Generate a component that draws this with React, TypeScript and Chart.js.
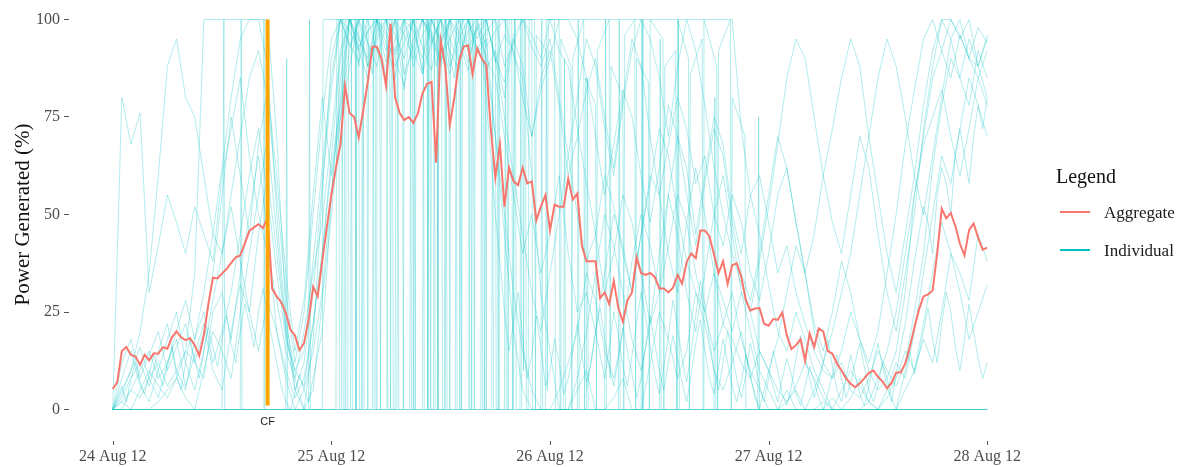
import React, { useEffect, useRef } from "react";
import { Chart, registerables } from "chart.js";

Chart.register(...registerables);

// Axis ticks (hours since 24 Aug 2012 00:00)
const DAY_HOURS = [0, 24, 48, 72, 96];
const DAY_LABELS = ["24 Aug 12", "25 Aug 12", "26 Aug 12", "27 Aug 12", "28 Aug 12"];
const POWER_TICKS = [0, 25, 50, 75, 100];

// Capacity-factor marker
const CF_HOUR = 17;
const CF_SPAN = [1, 100];
const CF_LABEL_Y = -3.2;

// Farm aggregate, half-hourly samples (% of rated power)
const HALF_HOUR = 0.5;
const aggregate = [
  5.3, 7, 15, 16, 14, 13.6, 11.5, 14, 12.6, 14.4, 14.3, 16,
  15.6, 18.5, 20, 18.5, 17.8, 18.3, 16.5, 13.8, 19, 27, 33.8, 33.6,
  34.9, 36, 37.6, 39, 39.5, 42.6, 45.8, 46.7, 47.5, 46.5, 49.3, 31,
  29, 27.5, 24.8, 20.5, 19, 15.2, 17, 23, 31.5, 29, 38, 46.7,
  55, 62, 68, 83, 76, 75, 69.8, 76.7, 84, 93, 93, 90,
  83, 98.9, 80, 76, 74.2, 75, 73.5, 75.9, 81, 83.5, 84, 63.3,
  94.6, 88, 73, 80, 89, 93, 93.4, 86, 92.6, 90, 88.4, 72,
  59.5, 68, 52, 62, 58.5, 57.5, 62, 58, 58.5, 48.5, 52, 55,
  46, 52.5, 52, 52, 59.2, 53.8, 55.4, 42, 38, 38, 38, 28.5,
  30, 27, 33, 26, 22.5, 28, 30, 39, 35, 34.5, 35, 34,
  31, 31, 30, 31.2, 34.5, 32.3, 37.8, 40, 38.8, 45.9, 45.9, 44.4,
  39.8, 35, 38, 32.2, 37, 37.5, 34, 28, 25.4, 25.9, 26, 22,
  21.5, 23.2, 23, 24.9, 19, 15.5, 16.5, 18, 12.5, 19.5, 16, 20.8,
  20, 15, 14.3, 11.8, 10, 8, 6.6, 5.7, 6.7, 8, 9.4, 10,
  8.4, 7.2, 5.4, 6.8, 9.5, 9.5, 11.8, 16, 21, 25.6, 29, 29.5,
  30.5, 40, 51.5, 49, 50.4, 47, 42.5, 39.5, 46, 47.7, 44, 41,
  41.5,
];

// Individual turbines, hourly samples (% of rated power)
const wtg01 = [
  0, 2, 5, 3, 8, 12, 6, 10, 15, 35, 100, 100,
  100, 100, 100, 100, 100, 100, 70, 25, 5, 0, 18, 55,
  90, 100, 100, 100, 100, 100, 100, 100, 100, 100, 100, 100,
  100, 100, 100, 100, 100, 100, 100, 100, 100, 100, 100, 100,
  100, 100, 100, 100, 100, 100, 100, 100, 100, 100, 100, 100,
  100, 100, 100, 100, 100, 100, 100, 100, 100, 72, 55, 60,
  48, 35, 42, 30, 22, 15, 10, 8, 12, 5, 3, 8,
  15, 10, 6, 12, 25, 40, 62, 78, 90, 85, 95, 88,
  80,
];
const wtg02 = [
  0, 80, 68, 76, 30, 42, 55, 48, 40, 52, 45, 38,
  60, 72, 85, 65, 50, 40, 28, 15, 8, 20, 35, 48,
  70, 92, 100, 95, 90, 100, 97, 92, 100, 88, 96, 100,
  93, 100, 97, 89, 98, 90, 85, 70, 55, 40, 50, 35,
  45, 60, 40, 25, 30, 20, 35, 50, 42, 30, 45, 60,
  55, 40, 30, 48, 62, 50, 35, 28, 20, 30, 25, 15,
  10, 18, 30, 42, 35, 20, 12, 8, 15, 25, 18, 10,
  5, 8, 15, 30, 55, 70, 85, 92, 100, 96, 90, 98,
  94,
];
const wtg03 = [
  0, 5, 10, 20, 35, 60, 88, 95, 80, 75, 60, 45,
  40, 55, 70, 85, 92, 80, 55, 30, 12, 25, 50, 75,
  95, 100, 97, 92, 100, 100, 96, 88, 94, 100, 100, 97,
  90, 95, 100, 100, 93, 87, 92, 80, 95, 88, 70, 85,
  92, 78, 60, 70, 82, 90, 75, 62, 80, 95, 88, 70,
  55, 68, 80, 72, 58, 65, 50, 42, 55, 48, 35, 28,
  40, 55, 62, 48, 35, 22, 15, 25, 38, 30, 18, 12,
  20, 35, 50, 68, 82, 95, 100, 92, 85, 96, 90, 88,
  95,
];
const wtg04 = [
  0, 3, 8, 12, 6, 15, 22, 10, 5, 18, 25, 12,
  20, 30, 45, 60, 72, 55, 35, 18, 10, 6, 22, 40,
  65, 90, 100, 96, 88, 100, 94, 85, 100, 97, 90, 100,
  95, 86, 100, 92, 98, 100, 90, 84, 96, 100, 93, 88,
  95, 80, 65, 50, 38, 45, 60, 52, 40, 30, 45, 58,
  72, 65, 50, 38, 30, 25, 35, 22, 18, 12, 8, 15,
  10, 5, 2, 6, 12, 8, 3, 0, 5, 10, 6, 2,
  8, 15, 25, 40, 55, 68, 75, 82, 70, 60, 72, 85,
  78,
];
const wtg05 = [
  0, 12, 18, 8, 14, 20, 10, 16, 22, 12, 8, 25,
  30, 18, 35, 50, 65, 45, 20, 8, 0, 5, 15, 30,
  55, 80, 100, 92, 85, 97, 100, 90, 83, 95, 100, 94,
  100, 88, 95, 100, 91, 95, 70, 45, 20, 5, 0, 0,
  0, 5, 12, 20, 35, 28, 15, 8, 20, 38, 50, 42,
  30, 55, 70, 62, 45, 60, 75, 68, 50, 40, 55, 45,
  32, 20, 15, 25, 18, 10, 5, 0, 0, 3, 8, 2,
  0, 5, 12, 8, 20, 35, 50, 65, 58, 72, 85, 78,
  70,
];
const wtg06 = [
  0, 0, 5, 10, 15, 8, 12, 20, 28, 18, 30, 45,
  62, 80, 95, 100, 100, 88, 50, 22, 10, 15, 38, 62,
  85, 100, 94, 89, 97, 100, 92, 100, 86, 93, 100, 96,
  89, 100, 95, 87, 100, 93, 97, 100, 91, 85, 60, 30,
  15, 0, 0, 5, 10, 0, 0, 3, 8, 0, 0, 12,
  25, 18, 8, 15, 30, 22, 10, 5, 12, 20, 8, 0,
  0, 0, 5, 0, 0, 0, 2, 0, 0, 0, 0, 0,
  0, 3, 8, 15, 10, 22, 35, 48, 40, 30, 18, 25,
  32,
];
const wtg07 = [
  0, 2, 0, 5, 10, 6, 3, 8, 15, 12, 20, 35,
  55, 75, 60, 45, 68, 82, 60, 35, 15, 28, 55, 80,
  60, 75, 88, 100, 100, 92, 85, 100, 96, 90, 100, 95,
  88, 100, 100, 100, 100, 100, 90, 75, 60, 45, 30, 20,
  35, 50, 65, 80, 95, 88, 72, 60, 78, 92, 100, 95,
  85, 70, 88, 100, 92, 78, 62, 50, 40, 32, 25, 38,
  52, 68, 85, 95, 90, 75, 60, 48, 40, 55, 70, 62,
  45, 30, 20, 35, 50, 72, 88, 100, 95, 85, 78, 92,
  85,
];
const wtg08 = [
  0, 8, 15, 6, 2, 10, 18, 25, 12, 5, 15, 28,
  40, 52, 38, 25, 45, 60, 40, 20, 5, 12, 30, 58,
  82, 100, 93, 100, 88, 95, 100, 91, 97, 100, 86, 94,
  100, 92, 87, 100, 95, 100, 89, 96, 92, 80, 70, 82,
  90, 100, 100, 95, 85, 70, 55, 68, 82, 75, 60, 48,
  62, 78, 70, 55, 42, 58, 72, 65, 48, 35, 28, 40,
  55, 70, 62, 48, 35, 45, 60, 72, 85, 95, 88, 70,
  55, 40, 30, 45, 60, 78, 92, 100, 100, 95, 100, 88,
  96,
];
const wtg09 = [
  0, 4, 10, 16, 8, 3, 12, 18, 6, 14, 22, 10,
  5, 20, 32, 25, 15, 28, 20, 10, 3, 8, 22, 40,
  62, 78, 92, 100, 94, 88, 100, 96, 90, 100, 93, 87,
  100, 95, 89, 100, 92, 97, 100, 88, 94, 100, 96, 90,
  100, 92, 88, 72, 58, 45, 30, 40, 55, 48, 35, 22,
  30, 42, 55, 48, 35, 25, 15, 22, 30, 18, 10, 5,
  0, 0, 2, 5, 0, 0, 0, 3, 0, 0, 0, 2,
  0, 0, 0, 5, 10, 18, 12, 25, 40, 35, 28, 45,
  38,
];
const wtg10 = [
  0, 0, 0, 0, 0, 2, 5, 8, 3, 0, 10, 20,
  15, 8, 25, 40, 55, 70, 45, 20, 8, 0, 5, 28,
  50, 75, 100, 93, 97, 100, 89, 95, 100, 92, 86, 100,
  94, 100, 90, 97, 100, 90, 70, 50, 30, 15, 5, 0,
  0, 0, 0, 8, 20, 35, 50, 42, 30, 18, 10, 22,
  40, 55, 45, 30, 20, 35, 50, 60, 45, 30, 20, 10,
  5, 0, 0, 0, 0, 5, 12, 20, 30, 40, 55, 70,
  85, 95, 88, 75, 60, 50, 65, 80, 95, 100, 90, 85,
  92,
];

// Turbines logged half-hourly (% of rated power), with their first sample hour
const wtg15Start = 0;
const wtg15 = [
  0, 3, 6, 2, 8, 12, 7, 4, 9, 14, 10, 6,
  11, 16, 9, 5, 12, 18, 13, 8, 15, 21, 16, 11,
  18, 24, 17, 12, 20, 27, 22, 16, 25, 31, 24, 18,
  12, 6, 2, 0, 4, 9, 5, 2, 8, 14, 20, 35,
  55, 70, 85, 92, 100, 96, 88, 100, 94, 86, 100, 92,
  85, 97, 100, 90, 82, 95, 100, 93, 87, 100, 96, 88,
  94, 100, 91, 85, 97, 100, 92, 86, 99, 93, 80, 65,
  50, 38, 25, 15, 22, 30, 18, 8, 14, 24, 16, 6,
  10, 18, 12, 4, 8, 15, 22, 14, 7, 12, 20, 26,
  18, 11, 6, 13, 21, 15, 9, 3, 8, 16, 24, 17,
  10, 5, 12, 19, 13, 7, 2, 9, 17, 23, 15, 8,
  4, 11, 18, 12, 6, 2, 7, 14, 9, 3, 0, 5,
  10, 6, 2, 8, 13, 9, 4, 1, 6, 11, 7, 3,
  0, 4, 9, 14, 8, 3, 7, 12, 17, 11, 5, 2,
  6, 12, 8, 3, 0, 5, 10, 15, 9, 14, 20, 26,
  18, 12, 22, 30, 25, 16, 10, 18, 27, 20, 13, 8,
  12,
];
const wtg16Start = 52;
const wtg16 = [
  5, 12, 20, 14, 8, 16, 25, 19, 11, 6, 14, 22,
  30, 24, 16, 9, 4, 11, 19, 28, 21, 13, 7, 15,
  24, 33, 27, 18, 10, 5, 12, 20, 14, 8, 3, 9,
  17, 12, 6, 2, 8, 15, 10, 4, 1, 6, 13, 19,
  14, 8, 3, 7, 12, 18, 11, 5, 2, 8, 14, 9,
  4, 1, 6, 12, 17, 11, 6, 2, 9, 16, 22, 30,
  38, 45, 52, 48, 40, 55, 62, 58, 50, 66, 72, 65,
  58, 70, 78, 72, 80,
];

// Turbines with rapid trips / restarts: [hour, % of rated power]
const wtg11: [number, number][] = [
  [0, 0], [24.5, 0], [24.6, 100], [25.4, 100], [25.5, 0], [25.6, 100], [26.6, 100], [26.7, 0],
  [26.8, 100], [27.9, 100], [28.0, 0], [28.1, 100], [29.3, 100], [29.4, 0], [29.5, 100], [30.4, 100],
  [30.5, 0], [30.6, 100], [31.8, 100], [31.9, 0], [32.0, 100], [33.1, 100], [33.2, 0], [33.3, 100],
  [34.5, 100], [34.6, 0], [34.7, 100], [35.6, 100], [35.7, 0], [35.8, 100], [36.9, 100], [37.0, 0],
  [37.1, 100], [38.2, 100], [38.3, 0], [38.4, 100], [39.6, 100], [39.7, 0], [39.8, 100], [40.9, 100],
  [41.0, 0], [41.1, 100], [42.2, 100], [42.3, 0], [42.4, 100], [43.3, 100], [43.4, 0], [43.5, 100],
  [44.2, 100], [44.3, 0], [45.6, 0], [45.7, 100], [46.0, 100], [46.1, 0], [96, 0],
];
const wtg12: [number, number][] = [
  [0, 0], [25.1, 0], [25.2, 100], [25.3, 0], [26.1, 0], [26.2, 100], [26.3, 0], [27.4, 0],
  [27.5, 100], [27.6, 0], [28.5, 0], [28.6, 100], [28.7, 0], [30.0, 0], [30.1, 100], [30.2, 0],
  [31.2, 0], [31.3, 100], [31.4, 0], [32.6, 0], [32.7, 100], [32.8, 0], [34.0, 0], [34.1, 100],
  [34.2, 0], [35.2, 0], [35.3, 100], [35.4, 0], [36.5, 0], [36.6, 100], [36.7, 0], [37.6, 0],
  [37.7, 100], [37.8, 0], [39.0, 0], [39.1, 100], [39.2, 0], [40.4, 0], [40.5, 100], [40.6, 0],
  [41.6, 0], [41.7, 100], [41.8, 0], [43.0, 0], [43.1, 100], [43.2, 0], [44.7, 0], [44.8, 100],
  [44.9, 0], [47.0, 0], [47.1, 100], [47.2, 0], [49.5, 0], [49.6, 90], [49.7, 0], [52.0, 0],
  [52.1, 85], [52.2, 0], [55.5, 0], [55.6, 100], [55.7, 0], [60.0, 0], [60.1, 95], [60.2, 0],
  [66.0, 0], [66.1, 80], [66.2, 0], [96, 0],
];
const wtg13: [number, number][] = [
  [0, 0], [12, 0], [12.2, 100], [12.3, 0], [14, 0], [14.1, 100], [14.2, 0], [16.5, 0],
  [16.6, 100], [16.7, 0], [19, 0], [19.1, 90], [19.2, 0], [21.5, 0], [21.6, 100], [21.7, 0],
  [23.0, 0], [23.1, 100], [24.8, 100], [24.9, 0], [25.8, 0], [25.9, 100], [27.0, 100], [27.1, 0],
  [27.3, 0], [27.4, 100], [28.8, 100], [28.9, 0], [29.0, 100], [30.7, 100], [30.8, 0], [31.0, 0],
  [31.1, 100], [32.9, 100], [33.0, 0], [33.1, 100], [34.8, 100], [34.9, 0], [35.0, 100], [36.1, 100],
  [36.2, 0], [36.4, 0], [36.5, 100], [38.0, 100], [38.1, 0], [38.2, 100], [39.3, 100], [39.4, 0],
  [39.5, 100], [40.7, 100], [40.8, 0], [40.9, 100], [42.0, 100], [42.1, 0], [42.3, 0], [42.4, 100],
  [43.8, 100], [43.9, 0], [44.1, 100], [45.3, 100], [45.4, 0], [47.5, 0], [47.6, 100], [48.5, 100],
  [48.6, 0], [51, 0], [51.1, 100], [51.2, 0], [54, 0], [54.1, 100], [54.2, 0], [58, 0],
  [58.1, 100], [58.2, 0], [62, 0], [62.1, 100], [62.2, 0], [96, 0],
];
const wtg14: [number, number][] = [
  [0, 0], [44.0, 0], [44.1, 100], [45.0, 100], [45.1, 10], [45.2, 100], [46.3, 100], [46.4, 0],
  [46.5, 96], [47.6, 92], [47.7, 5], [47.8, 100], [49.0, 100], [49.1, 0], [49.2, 95], [50.3, 88],
  [50.4, 0], [50.5, 90], [51.7, 100], [51.8, 0], [51.9, 85], [53.0, 78], [53.1, 0], [53.2, 92],
  [54.5, 100], [54.6, 8], [54.7, 88], [56.0, 80], [56.1, 0], [56.2, 96], [57.3, 100], [57.4, 0],
  [57.5, 90], [58.8, 84], [58.9, 0], [59.0, 100], [60.4, 95], [60.5, 0], [60.6, 88], [61.8, 92],
  [61.9, 0], [62.0, 100], [63.2, 90], [63.3, 0], [63.4, 86], [64.7, 95], [64.8, 0], [64.9, 100],
  [66.3, 88], [66.4, 0], [66.5, 92], [67.8, 100], [67.9, 0], [68.0, 80], [69.4, 70], [69.5, 0],
  [70.8, 0], [70.9, 75], [71.0, 0], [96, 0],
];

const HOURLY_TURBINES = [wtg01, wtg02, wtg03, wtg04, wtg05, wtg06, wtg07, wtg08, wtg09, wtg10];
const HALF_HOURLY_TURBINES: [number, number[]][] = [
  [wtg15Start, wtg15],
  [wtg16Start, wtg16],
];
const TRIP_TURBINES = [wtg11, wtg12, wtg13, wtg14];

const AGG_COLOR = "#F8766D";
const IND_COLOR = "rgba(0, 191, 196, 0.3)";
const CF_COLOR = "#FFA500";
const SERIF = "'Liberation Serif', 'Times New Roman', serif";

const annotations = {
  id: "cfAnnotations",
  afterDatasetsDraw(chart: any) {
    const { ctx, scales } = chart;
    const x = scales.x;
    const y = scales.y;
    ctx.save();
    ctx.fillStyle = "#222222";
    ctx.font = "11px 'Liberation Sans', Arial, sans-serif";
    ctx.textAlign = "center";
    ctx.textBaseline = "middle";
    ctx.fillText("CF", x.getPixelForValue(CF_HOUR), y.getPixelForValue(CF_LABEL_Y));
    ctx.restore();
  },
  afterDraw(chart: any) {
    const { ctx, scales, chartArea } = chart;
    const x = scales.x;
    ctx.save();
    ctx.strokeStyle = "#555555";
    ctx.lineWidth = 1;
    DAY_HOURS.forEach((h) => {
      const px = Math.round(x.getPixelForValue(h)) + 0.5;
      ctx.beginPath();
      ctx.moveTo(px, chartArea.bottom + 12);
      ctx.lineTo(px, chartArea.bottom + 16);
      ctx.stroke();
    });
    ctx.restore();
  },
};

const individualStyle = {
  borderColor: IND_COLOR,
  borderWidth: 1,
  pointRadius: 0,
  tension: 0,
};

export default function App() {
  const canvasRef = useRef<HTMLCanvasElement | null>(null);

  useEffect(() => {
    const canvas = canvasRef.current;
    if (!canvas) return;

    const individualSets = [
      ...HOURLY_TURBINES.map((vals) => ({
        label: "Individual",
        data: vals.map((v, i) => ({ x: i, y: v })),
        ...individualStyle,
      })),
      ...HALF_HOURLY_TURBINES.map(([start, vals]) => ({
        label: "Individual",
        data: vals.map((v, i) => ({ x: start + i * HALF_HOUR, y: v })),
        ...individualStyle,
      })),
      ...TRIP_TURBINES.map((pairs) => ({
        label: "Individual",
        data: pairs.map(([h, v]) => ({ x: h, y: v })),
        ...individualStyle,
      })),
    ];

    const chart = new Chart(canvas, {
      type: "line",
      data: {
        datasets: [
          {
            label: "CF",
            data: CF_SPAN.map((v) => ({ x: CF_HOUR, y: v })),
            borderColor: CF_COLOR,
            borderWidth: 4,
            pointRadius: 0,
          },
          {
            label: "Aggregate",
            data: aggregate.map((v, i) => ({ x: i * HALF_HOUR, y: v })),
            borderColor: AGG_COLOR,
            borderWidth: 2,
            pointRadius: 0,
            tension: 0,
          },
          ...individualSets,
        ],
      },
      options: {
        responsive: false,
        animation: false,
        parsing: false,
        normalized: true,
        layout: { padding: { left: 0, right: 153, top: 0, bottom: 0 } },
        plugins: {
          legend: { display: false },
          tooltip: { enabled: false },
        },
        scales: {
          x: {
            type: "linear",
            min: -4.8,
            max: 100.8,
            afterBuildTicks: (s: any) => {
              s.ticks = DAY_HOURS.map((v) => ({ value: v }));
            },
            afterFit: (s: any) => {
              s.height = 38;
              s.paddingLeft = 0;
              s.paddingRight = 0;
            },
            border: { display: false },
            grid: { display: false, drawTicks: false },
            ticks: {
              autoSkip: false,
              maxRotation: 0,
              padding: 18,
              color: "#4D4D4D",
              font: { family: SERIF, size: 16 },
              callback: (_v: any, i: number) => DAY_LABELS[i],
            },
          },
          y: {
            min: -5,
            max: 105,
            afterBuildTicks: (s: any) => {
              s.ticks = POWER_TICKS.map((v) => ({ value: v }));
            },
            afterFit: (s: any) => {
              s.width = 69;
              s.paddingTop = 0;
              s.paddingBottom = 0;
            },
            border: { display: false },
            grid: {
              drawOnChartArea: false,
              drawTicks: true,
              tickLength: 5,
              color: "#555555",
              tickColor: "#555555",
            },
            ticks: {
              padding: 4,
              color: "#4D4D4D",
              font: { family: SERIF, size: 16 },
              callback: (v: any) => String(v),
            },
            title: {
              display: true,
              text: "Power Generated (%)",
              color: "#111111",
              font: { family: SERIF, size: 21 },
              padding: { top: 11, bottom: 0 },
            },
          },
        },
      },
      plugins: [annotations],
    });

    return () => chart.destroy();
  }, []);

  const legendLabel: React.CSSProperties = {
    position: "absolute",
    left: 1104,
    fontFamily: SERIF,
    fontSize: 17,
    lineHeight: "20px",
    color: "#1a1a1a",
    whiteSpace: "nowrap",
  };

  return (
    <div style={{ position: "absolute", left: 0, top: 0, width: 1184, height: 467, background: "#ffffff" }}>
      <canvas ref={canvasRef} width={1184} height={467} style={{ display: "block", width: 1184, height: 467 }} />
      <div
        style={{
          position: "absolute",
          left: 1056,
          top: 165,
          fontFamily: SERIF,
          fontSize: 20,
          lineHeight: "22px",
          color: "#111111",
        }}
      >
        Legend
      </div>
      <div style={{ position: "absolute", left: 1060, top: 211, width: 30, height: 2, background: AGG_COLOR }} />
      <div style={{ ...legendLabel, top: 203 }}>Aggregate</div>
      <div style={{ position: "absolute", left: 1060, top: 249, width: 30, height: 2, background: "#00BFC4" }} />
      <div style={{ ...legendLabel, top: 241 }}>Individual</div>
    </div>
  );
}
